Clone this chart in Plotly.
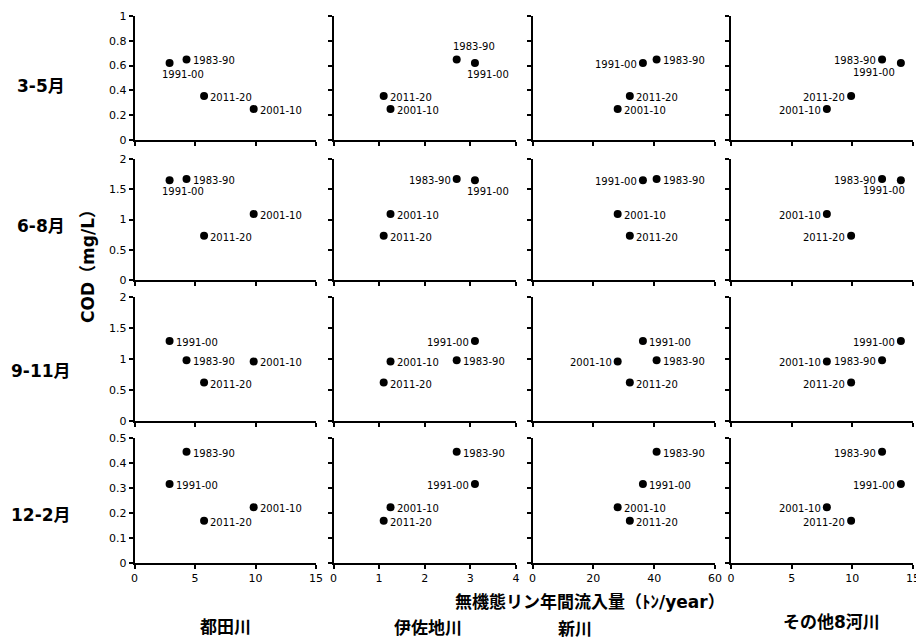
import plotly.graph_objects as go

# ---------------- data ----------------
periods = ["1983-90", "1991-00", "2001-10", "2011-20"]
rivers = ["都田川", "伊佐地川", "新川", "その他8河川"]
seasons = ["3-5月", "6-8月", "9-11月", "12-2月"]

# annual inorganic phosphorus inflow (t/year), order = periods
p_miyakoda = [4.3, 2.9, 9.85, 5.75]
p_isaji = [2.7, 3.1, 1.25, 1.1]
p_shinkawa = [40.8, 36.3, 28.0, 32.0]
p_others = [12.45, 14.0, 7.9, 9.9]

# seasonal COD (mg/L), order = periods
cod_spring = [0.65, 0.62, 0.25, 0.355]
cod_summer = [1.67, 1.65, 1.09, 0.73]
cod_autumn = [0.98, 1.29, 0.96, 0.62]
cod_winter = [0.445, 0.316, 0.223, 0.169]

x_max = [15, 4, 60, 15]
x_dtick = [5, 1, 20, 5]
y_max = [1, 2, 2, 0.5]
y_dtick = [0.2, 0.5, 0.5, 0.1]

x_title = "無機態リン年間流入量（ﾄﾝ/year）"
y_title = "COD（mg/L）"

# ---------------- styling ----------------
# page has an 8px body margin, so the figure is 916x631 placed at (8, 8)
OFF = 8
W, H = 924 - OFF, 639 - OFF
FONT = "DejaVu Sans, Noto Sans CJK JP"
col_px = [(134.5, 316), (333.5, 516), (532.5, 715), (731, 913)]
row_px = [(16, 140), (159, 280), (297, 421), (438, 563)]


def px_x(v):
    return (v - OFF) / W


def px_y(v):
    return 1 - (v - OFF) / H


# label placement per panel [row][col] for each period
place = [
    [["R", "B", "R", "R"], ["T", "B", "R", "R"], ["R", "L", "R", "R"], ["L", "BL", "L", "L"]],
    [["R", "B", "R", "R"], ["L", "B", "R", "R"], ["R", "L", "R", "R"], ["L", "BL2", "L", "L"]],
    [["R", "R", "R", "R"], ["R", "L", "R", "R"], ["R", "R", "L", "R"], ["L", "L", "L", "L"]],
    [["R", "R", "R", "R"], ["R", "L", "R", "R"], ["R", "R", "R", "R"], ["L", "L", "L", "L"]],
]
offs = {
    "R": ("left", 4, -1.5),
    "L": ("right", -4, -1.5),
    "B": ("left", -10, -11),
    "T": ("left", -6, 13),
    "BL": ("right", -4, -9),
    "BL2": ("right", 6, -10),
}

xs_all = [p_miyakoda, p_isaji, p_shinkawa, p_others]
ys_all = [cod_spring, cod_summer, cod_autumn, cod_winter]

fig = go.Figure()
annotations = []
layout_axes = {}

for r in range(4):
    for c in range(4):
        k = r * 4 + c + 1
        xn = "x" if k == 1 else f"x{k}"
        yn = "y" if k == 1 else f"y{k}"
        xa = "xaxis" if k == 1 else f"xaxis{k}"
        ya = "yaxis" if k == 1 else f"yaxis{k}"
        xs = xs_all[c]
        ys = ys_all[r]
        fig.add_trace(go.Scatter(
            x=xs, y=ys, mode="markers", xaxis=xn, yaxis=yn,
            marker=dict(size=8, color="black"),
            showlegend=False, hoverinfo="skip", cliponaxis=False,
        ))
        for i, lab in enumerate(periods):
            xanc, dx, dy = offs[place[r][c][i]]
            annotations.append(dict(
                x=xs[i], y=ys[i], xref=xn, yref=yn, text=lab, showarrow=False,
                xanchor=xanc, yanchor="middle", xshift=dx, yshift=dy,
                font=dict(family=FONT, size=10, color="black"),
            ))
        x0, x1 = col_px[c]
        y0, y1 = row_px[r]
        common = dict(
            showgrid=False, zeroline=False, showline=True, linecolor="black",
            linewidth=1.5, ticks="outside", ticklen=4, tickcolor="black",
            tickwidth=1.5, tick0=0,
            tickfont=dict(family=FONT, size=11, color="black"),
            automargin=False, fixedrange=True,
        )
        layout_axes[xa] = dict(
            common, domain=[px_x(x0), px_x(x1)], range=[0, x_max[c]],
            dtick=x_dtick[c], anchor=yn, showticklabels=(r == 3),
        )
        layout_axes[ya] = dict(
            common, domain=[px_y(y1), px_y(y0)], range=[0, y_max[r]],
            dtick=y_dtick[r], anchor=xn, showticklabels=(c == 0),
        )

big = dict(family=FONT, size=17, color="black", weight="bold")

row_lab_y = [86, 226, 371, 515]
for r in range(4):
    annotations.append(dict(
        x=px_x(41), y=px_y(row_lab_y[r]), xref="paper", yref="paper",
        text=seasons[r], showarrow=False, xanchor="center", yanchor="middle",
        font=big,
    ))

col_lab = [(225, 627), (428, 628), (575, 629), (831, 622)]
for c in range(4):
    annotations.append(dict(
        x=px_x(col_lab[c][0]), y=px_y(col_lab[c][1]), xref="paper", yref="paper",
        text=rivers[c], showarrow=False, xanchor="center", yanchor="middle",
        font=big,
    ))

annotations.append(dict(
    x=px_x(590), y=px_y(602), xref="paper", yref="paper", text=x_title,
    showarrow=False, xanchor="center", yanchor="middle", font=big,
))
annotations.append(dict(
    x=px_x(88), y=px_y(262), xref="paper", yref="paper", text=y_title,
    showarrow=False, xanchor="center", yanchor="middle", textangle=-90, font=big,
))

fig.update_layout(
    width=W, height=H,
    margin=dict(l=0, r=0, t=0, b=0),
    paper_bgcolor="white", plot_bgcolor="white",
    annotations=annotations,
    **layout_axes,
)

fig.write_html("out.html")
